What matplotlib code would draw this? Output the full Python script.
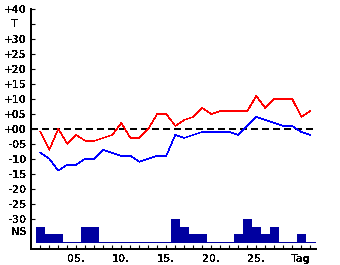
"""Monthly temperature chart: daily max / min with precipitation bars (NS)."""

import numpy as np
import matplotlib
matplotlib.use("Agg")
import matplotlib.pyplot as plt

plt.rcParams["font.family"] = "DejaVu Sans"
plt.rcParams["text.antialiased"] = False

# ── Data ────────────────────────────────────────────────────────────────
DAYS = np.arange(1, 32)

T_MAX = [-1, -7, 0, -5, -2, -4, -4, -3, -2, 2, -3, -3, 0, 5, 5, 1,
         3, 4, 7, 5, 6, 6, 6, 6, 11, 7, 10, 10, 10, 4, 6]
T_MIN = [-8, -10, -14, -12, -12, -10, -10, -7, -8, -9, -9, -11, -10, -9, -9, -2,
         -3, -2, -1, -1, -1, -1, -2, 1, 4, 3, 2, 1, 1, -1, -2]

# precipitation in display levels
PRECIP = [2, 1, 1, 0, 0, 2, 2, 0, 0, 0, 0, 0, 0, 0, 0, 3,
          2, 1, 1, 0, 0, 0, 1, 3, 2, 1, 2, 0, 0, 1, 0]

Y_TICKS = [40, 35, 30, 25, 20, 15, 10, 5, 0, -5, -10, -15, -20, -25, -30]
Y_LABELS = ["+40", "", "+30", "+25", "+20", "+15", "+10", "+05", "+00",
            "-05", "-10", "-15", "-20", "-25", "-30"]
X_LABEL_DAYS = {5: "05.", 10: "10.", 15: "15.", 20: "20.", 25: "25.", 30: "Tag"}

RED = "#FF0000"
BLUE = "#0000FF"
NAVY = "#0000A0"
FONT = dict(fontsize=7.3, fontweight="bold")

W, H = 340, 265
fig = plt.figure(figsize=(W / 100, H / 100), dpi=100)
ax = fig.add_axes([31.3 / W, 16.5 / H, 284.4 / W, 239.2 / H])

ax.set_xlim(0, 31.6)
ax.set_ylim(-40, 40)

# zero line
ax.axhline(0, color="black", linewidth=1.2, dashes=(4, 3), antialiased=False)

ax.plot(DAYS, T_MAX, color=RED, linewidth=0.4, antialiased=False)
ax.plot(DAYS, T_MIN, color=BLUE, linewidth=0.4, antialiased=False)

# precipitation on its own scale at the bottom
ax2 = ax.twinx()
ax2.set_ylim(-0.85, 30.34)
ax2.bar(DAYS, PRECIP, width=1.0, color=NAVY, linewidth=0, antialiased=False)
ax2.hlines(0, 0.5, 31.5, color=NAVY, linewidth=0.7, antialiased=False)
ax2.set_yticks([])
for s in ax2.spines.values():
    s.set_visible(False)

# axes styling
for side in ("top", "right"):
    ax.spines[side].set_visible(False)
for side in ("left", "bottom"):
    ax.spines[side].set_linewidth(1.4)
    ax.spines[side].set_antialiased(False)

ax.set_yticks(Y_TICKS)
ax.set_yticklabels(Y_LABELS, **FONT)
ax.set_xticks(DAYS)
ax.set_xticklabels([X_LABEL_DAYS.get(d, "") for d in DAYS], **FONT)
ax.tick_params(axis="y", direction="in", length=3, width=0.8, pad=3.3)
ax.tick_params(axis="x", direction="in", length=3, width=0.8, pad=4)

ax.annotate("T", xy=(0, 35), xycoords=("axes fraction", "data"),
            xytext=(-17, 0), textcoords="offset pixels",
            ha="center", va="center", **FONT)
ax.annotate("NS", xy=(0, -34.5), xycoords=("axes fraction", "data"),
            xytext=(-4.6, 0), textcoords="offset pixels",
            ha="right", va="center", **FONT)

fig.savefig("out.png", dpi=100)
